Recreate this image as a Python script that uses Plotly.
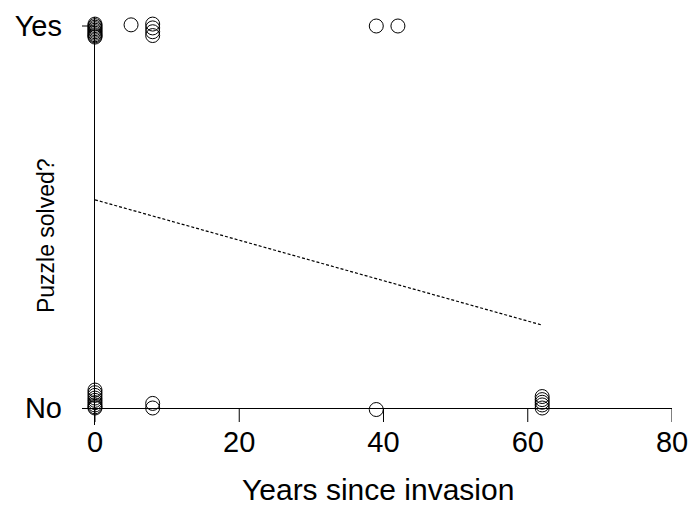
import plotly.graph_objects as go

# Data (jittered binary outcome)
solved_x = [0, 0, 0, 0, 0, 0, 0, 0, 0, 0, 5, 8, 8, 8, 8, 39, 42]
solved_y = [1.005, 1.001, 0.997, 0.993, 0.989, 0.985, 0.981, 0.977, 0.974, 0.971,
            1.003, 1.005, 0.995, 0.985, 0.975, 1.0, 1.0]
unsolved_x = [0, 0, 0, 0, 0, 0, 0, 0, 0, 8, 8, 39, 62, 62, 62, 62, 62]
unsolved_y = [0.047, 0.040, 0.033, 0.026, 0.020, 0.014, 0.008, 0.003, 0.0,
              0.012, 0.0, -0.004, 0.030, 0.022, 0.015, 0.008, 0.0]
fit_x = [0, 62]
fit_y = [0.545, 0.217]
x_ticks = [0, 20, 40, 60, 80]
y_ticks = [0, 1]
y_labels = ["No", "Yes"]

FONT = "Liberation Sans, Arial, sans-serif"
marker = dict(symbol="circle-open", size=14, color="black", line=dict(width=1, color="black"))

fig = go.Figure()
fig.add_trace(go.Scatter(x=solved_x + unsolved_x, y=solved_y + unsolved_y, mode="markers",
                         marker=marker, cliponaxis=False, showlegend=False, hoverinfo="skip"))
fig.add_trace(go.Scatter(x=fit_x, y=fit_y, mode="lines",
                         line=dict(color="black", width=1.2, dash="3px,2px"),
                         cliponaxis=False, showlegend=False, hoverinfo="skip"))

shapes = []
tick_len = 14 / 382
for t in x_ticks:
    shapes.append(dict(type="line", xref="x", yref="y", x0=t, x1=t, y0=0, y1=-tick_len,
                       line=dict(color="black", width=1)))
shapes.append(dict(type="line", xref="x", yref="y", x0=-1.8, x1=0, y0=1, y1=1,
                   line=dict(color="black", width=1)))

fig.update_layout(
    width=693, height=520,
    margin=dict(l=82, r=21, t=17, b=95),
    paper_bgcolor="white", plot_bgcolor="white",
    font=dict(family=FONT, color="black", size=22),
    shapes=shapes,
    xaxis=dict(range=[-1.8, 80], showgrid=False, showline=False, zeroline=True,
               zerolinecolor="black", zerolinewidth=1, automargin=False,
               tickmode="array", tickvals=x_ticks, ticks="",
               tickfont=dict(size=29, family=FONT, color="black"), ticklabelstandoff=-3),
    yaxis=dict(range=[-17 / 382, 1 + 9 / 382], showgrid=False, showline=False, zeroline=True,
               zerolinecolor="black", zerolinewidth=1, automargin=False,
               tickmode="array", tickvals=y_ticks, ticktext=y_labels, ticks="",
               tickfont=dict(size=29, family=FONT, color="black"), ticklabelstandoff=19),
    annotations=[
        dict(text="Years since invasion", xref="paper", yref="paper", x=0.502, y=-0.157,
             xanchor="center", yanchor="middle", showarrow=False,
             font=dict(size=30, family=FONT, color="black")),
        dict(text="Puzzle solved?", xref="paper", yref="paper", x=-0.061, y=0.463,
             xanchor="center", yanchor="middle", showarrow=False, textangle=-90,
             font=dict(size=23, family=FONT, color="black")),
    ],
)

fig.write_html("out.html", config={"displayModeBar": False},
               post_script="document.body.style.margin='0';document.body.style.overflow='hidden';")
